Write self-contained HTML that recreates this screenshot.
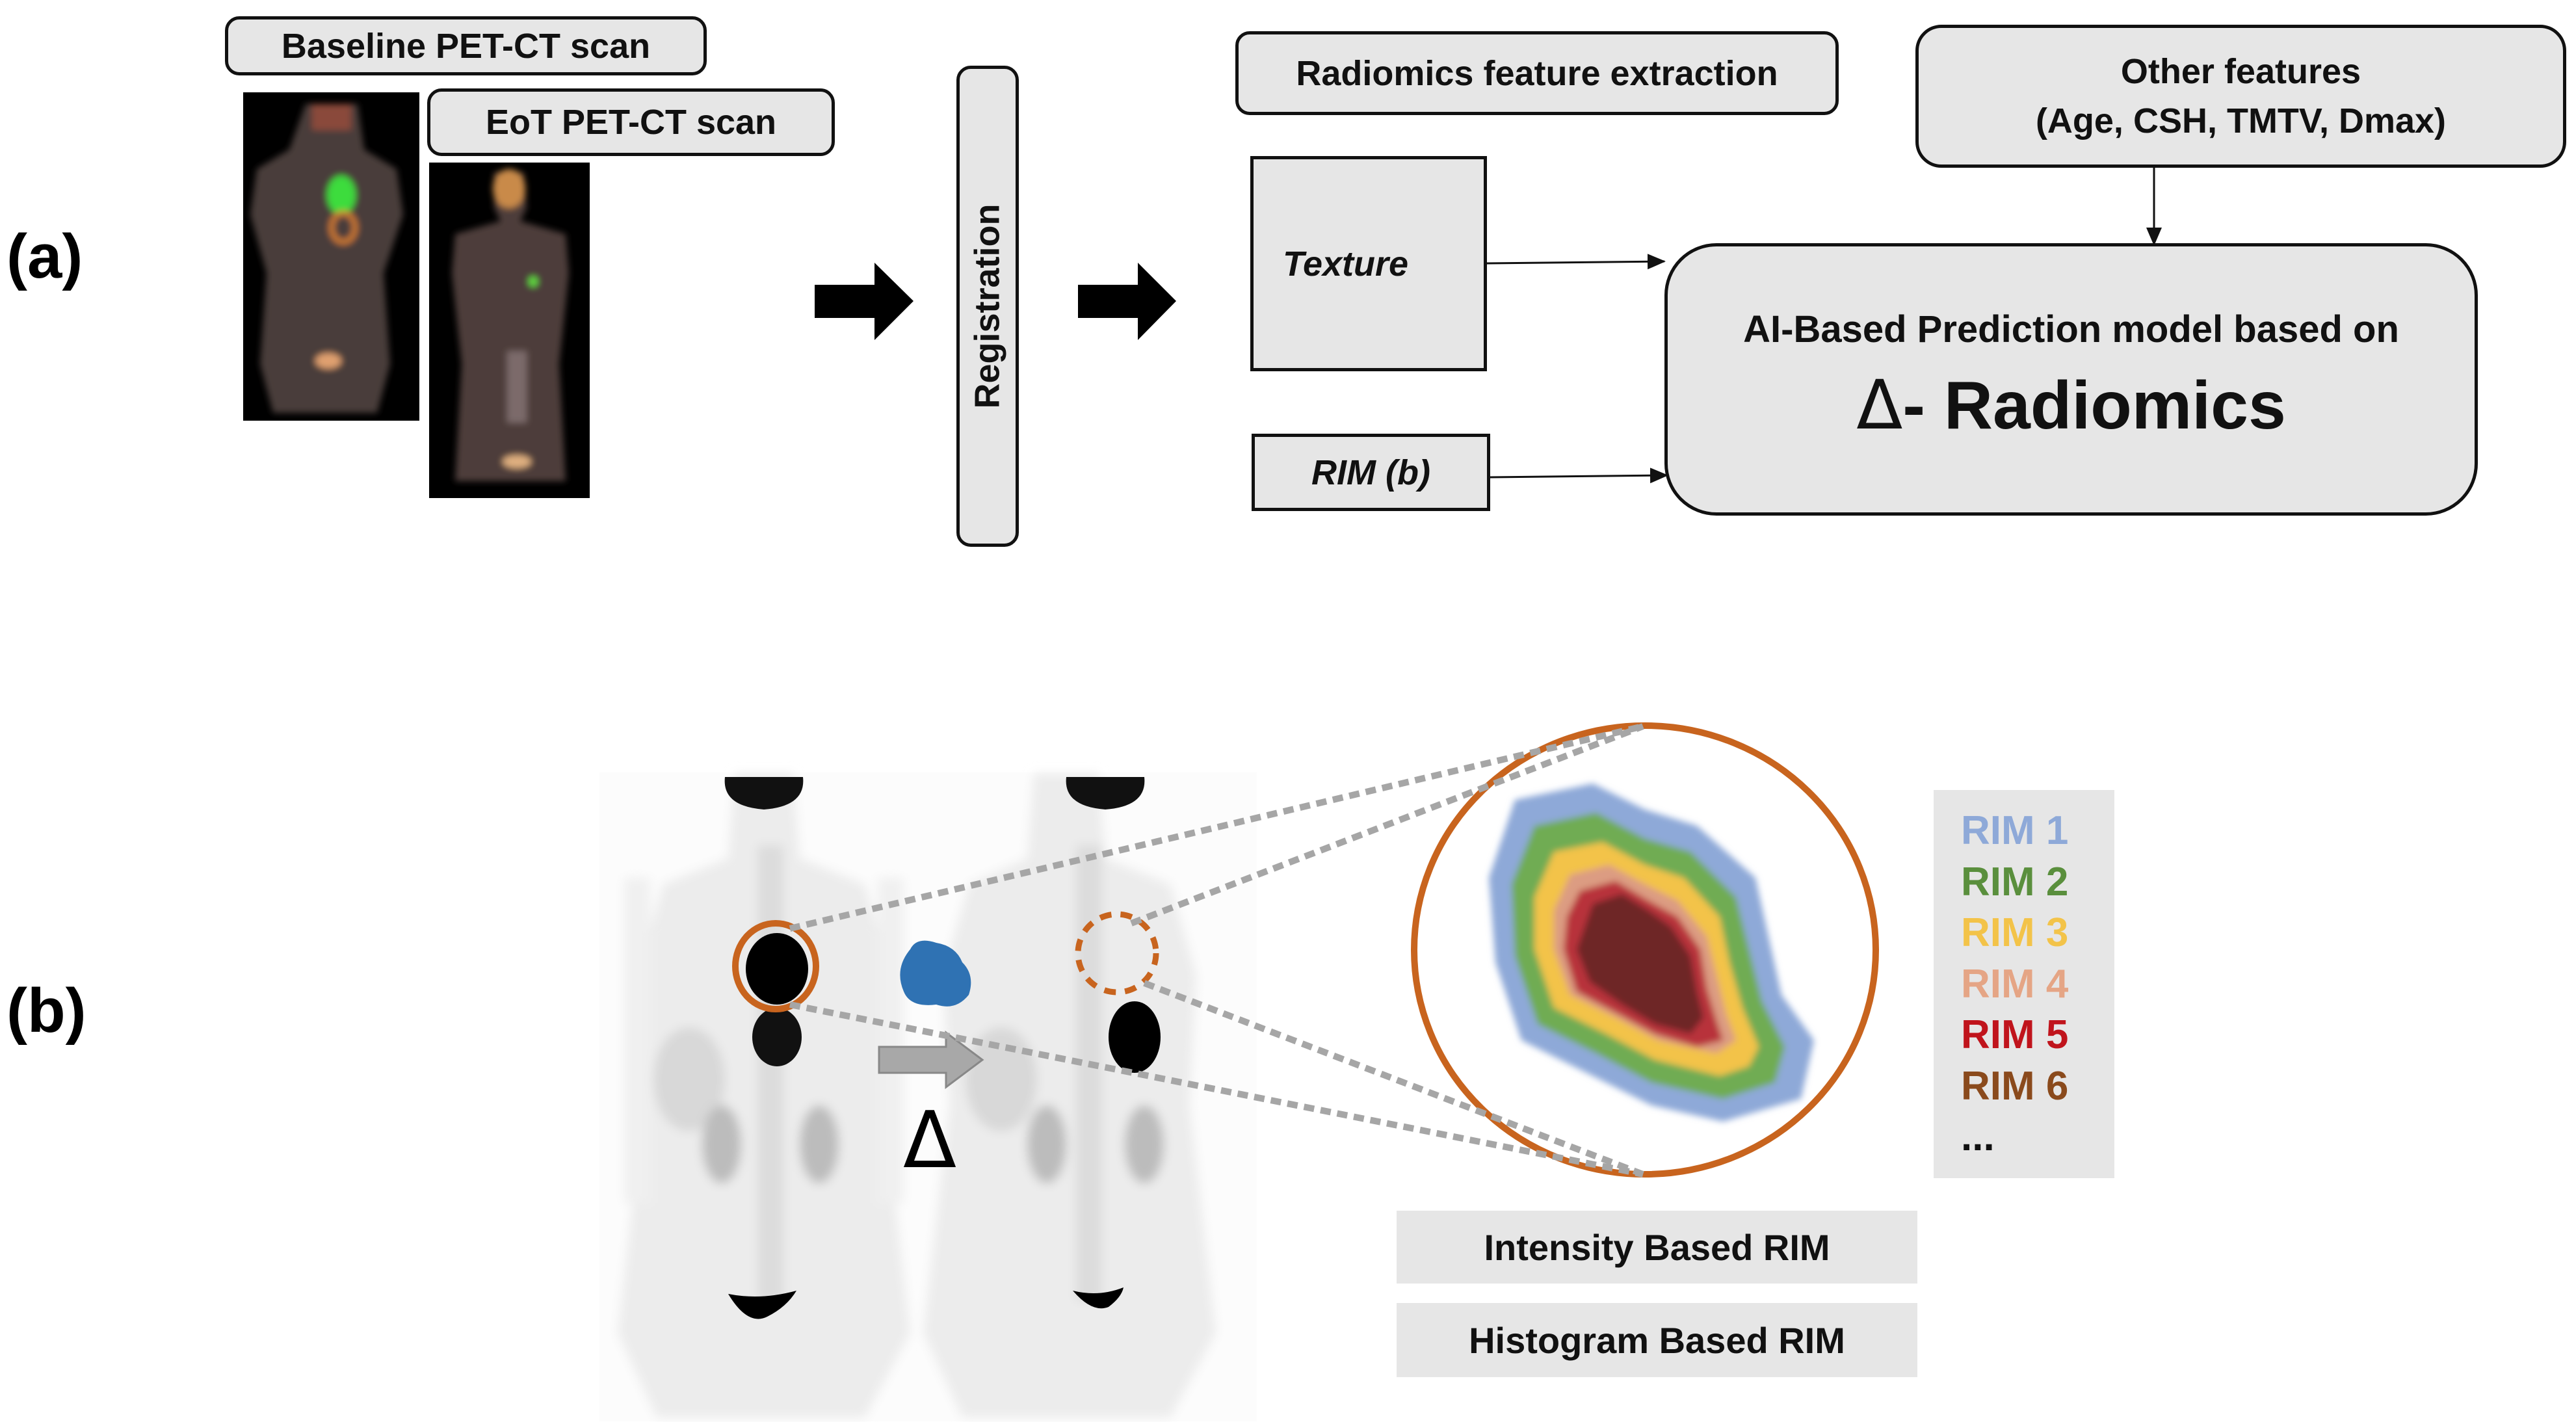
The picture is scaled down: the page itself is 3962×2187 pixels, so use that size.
<!DOCTYPE html>
<html><head><meta charset="utf-8"><style>
body{margin:0;width:3962px;height:2187px;background:#fff;overflow:hidden;position:relative;font-family:"Liberation Sans",Arial,sans-serif}
.b{position:absolute;box-sizing:border-box;background:#e6e6e6;border:5px solid #111;display:flex;align-items:center;justify-content:center;text-align:center;font-weight:bold;color:#111}
.r{border-radius:22px}
</style></head><body>
<svg width="3962" height="2187" style="position:absolute;left:0;top:0">
<defs>
<marker id="ah" markerWidth="28" markerHeight="28" refX="26" refY="14" orient="auto" markerUnits="userSpaceOnUse" viewBox="0 0 28 28"><path d="M0,2L28,14L0,26z" fill="#111"/></marker>
<filter id="bl"><feGaussianBlur stdDeviation="5"/></filter>
<filter id="bl2"><feGaussianBlur stdDeviation="8"/></filter>
</defs>
<!-- PET-CT images part a -->
<rect x="374" y="142" width="271" height="505" fill="#000"/>
<g filter="url(#bl)">
<path d="M470,160 L550,160 L560,230 L610,260 L620,330 L590,420 L600,560 L580,635 L420,635 L400,560 L410,420 L385,330 L395,260 L445,230Z" fill="#4a3d3b"/>
<ellipse cx="525" cy="300" rx="22" ry="30" fill="#3cdc3c"/>
<ellipse cx="528" cy="350" rx="18" ry="22" fill="none" stroke="#d07a30" stroke-width="8"/>
<ellipse cx="505" cy="555" rx="20" ry="12" fill="#e0a070"/>
<rect x="480" y="160" width="60" height="40" fill="#8a4a3a"/>
</g>
<rect x="660" y="250" width="247" height="516" fill="#000"/>
<g filter="url(#bl)">
<path d="M760,265 L805,265 L810,320 L800,340 L870,360 L875,420 L860,560 L870,740 L700,740 L710,560 L695,420 L700,360 L770,340 L760,320Z" fill="#4d3c3a"/>
<ellipse cx="783" cy="290" rx="25" ry="30" fill="#c98a4a"/>
<ellipse cx="820" cy="433" rx="7" ry="8" fill="#60e040"/>
<ellipse cx="795" cy="710" rx="22" ry="10" fill="#e0b080"/>
<rect x="780" y="540" width="30" height="110" fill="#7b6a6a"/>
</g>
<!-- black arrows -->
<path d="M1253,438 L1345,438 L1345,404 L1405,463 L1345,523 L1345,489 L1253,489Z" fill="#000"/>
<path d="M1658,438 L1750,438 L1750,404 L1809,463 L1750,523 L1750,489 L1658,489Z" fill="#000"/>
<!-- connectors -->
<line x1="2287" y1="405" x2="2560" y2="402" stroke="#111" stroke-width="3" marker-end="url(#ah)"/>
<line x1="2292" y1="734" x2="2564" y2="731" stroke="#111" stroke-width="3" marker-end="url(#ah)"/>
<line x1="3313" y1="258" x2="3313" y2="376" stroke="#111" stroke-width="3" marker-end="url(#ah)"/>
<!-- part b PET MIPs -->
<rect x="922" y="1188" width="1011" height="998" fill="#fcfcfc"/>
<g filter="url(#bl2)">
<path d="M1130,1190 L1220,1190 L1230,1320 L1330,1360 L1370,1500 L1360,1700 L1400,2050 L1330,2180 L1010,2180 L950,2050 L990,1700 L980,1500 L1020,1360 L1120,1320Z" fill="#ececec"/>
<rect x="960" y="1350" width="40" height="500" fill="#f0f0f0"/>
<rect x="1350" y="1350" width="40" height="500" fill="#f0f0f0"/>
<rect x="1165" y="1300" width="40" height="700" fill="#dcdcdc"/>
<ellipse cx="1060" cy="1660" rx="55" ry="80" fill="#d8d8d8"/>
<ellipse cx="1110" cy="1760" rx="30" ry="60" fill="#bcbcbc"/>
<ellipse cx="1260" cy="1760" rx="30" ry="60" fill="#bcbcbc"/>
<path d="M1590,1190 L1690,1190 L1700,1320 L1800,1360 L1840,1500 L1830,1700 L1870,2050 L1800,2180 L1480,2180 L1420,2050 L1460,1700 L1450,1500 L1490,1360 L1580,1320Z" fill="#ececec"/>
<rect x="1655" y="1300" width="40" height="700" fill="#dcdcdc"/>
<ellipse cx="1540" cy="1660" rx="55" ry="80" fill="#d8d8d8"/>
<ellipse cx="1610" cy="1760" rx="30" ry="60" fill="#bcbcbc"/>
<ellipse cx="1760" cy="1760" rx="30" ry="60" fill="#bcbcbc"/>
</g>
<path d="M1115,1195 L1235,1195 Q1240,1240 1175,1245 Q1110,1240 1115,1195Z" fill="#111"/>
<path d="M1640,1195 L1760,1195 Q1765,1240 1700,1245 Q1635,1240 1640,1195Z" fill="#111"/>
<ellipse cx="1195" cy="1490" rx="48" ry="55" fill="#000"/>
<ellipse cx="1195" cy="1595" rx="38" ry="45" fill="#111"/>
<ellipse cx="1745" cy="1595" rx="40" ry="55" fill="#000"/>
<path d="M1120,1990 Q1150,2040 1180,2025 Q1210,2010 1225,1985 Q1170,2000 1120,1990Z" fill="#000"/>
<path d="M1650,1985 Q1680,2020 1705,2010 Q1725,1995 1728,1980 Q1690,1995 1650,1985Z" fill="#000"/>
<ellipse cx="1193" cy="1486" rx="62" ry="66" fill="none" stroke="#c8641e" stroke-width="10"/>
<ellipse cx="1718" cy="1466" rx="60" ry="60" fill="none" stroke="#c8641e" stroke-width="9" stroke-dasharray="18,14"/>
<!-- blue blob -->
<path d="M1400,1460 Q1410,1440 1440,1450 Q1470,1455 1480,1480 Q1500,1500 1490,1530 Q1470,1555 1440,1545 Q1400,1550 1390,1525 Q1375,1490 1400,1460Z" fill="#2f72b3"/>
<!-- gray arrow -->
<path d="M1352,1610 L1455,1610 L1455,1588 L1511,1630 L1455,1672 L1455,1650 L1352,1650Z" fill="#a8a8a8" stroke="#888" stroke-width="3"/>
<text x="1430" y="1795" font-size="120" font-family="DejaVu Sans,sans-serif" text-anchor="middle" fill="#000">Δ</text>
<!-- big circle with rims -->
<ellipse cx="2530" cy="1461" rx="355" ry="345" fill="#fff" stroke="#c8641e" stroke-width="10"/>
<g filter="url(#bl)">
<path d="M2330,1230 L2450,1205 L2530,1245 L2610,1270 L2700,1350 L2720,1440 L2740,1530 L2790,1600 L2770,1690 L2650,1725 L2540,1700 L2440,1650 L2340,1600 L2300,1480 L2290,1350Z" fill="#8ea9d8"/>
<path d="M2360,1270 L2455,1250 L2530,1290 L2600,1310 L2670,1380 L2690,1460 L2710,1540 L2745,1610 L2730,1665 L2650,1690 L2540,1665 L2455,1620 L2365,1575 L2330,1470 L2325,1360Z" fill="#6fac52"/>
<path d="M2390,1310 L2465,1295 L2530,1330 L2590,1350 L2645,1410 L2660,1480 L2680,1550 L2705,1610 L2690,1640 L2645,1655 L2545,1630 L2470,1590 L2390,1550 L2360,1460 L2360,1380Z" fill="#f3c349"/>
<path d="M2415,1345 L2475,1330 L2530,1360 L2580,1385 L2625,1440 L2640,1500 L2655,1560 L2670,1600 L2640,1620 L2550,1600 L2485,1565 L2415,1530 L2390,1460 L2390,1400Z" fill="#dc9c82"/>
<path d="M2430,1370 L2485,1355 L2535,1385 L2580,1410 L2615,1460 L2625,1520 L2640,1570 L2650,1600 L2610,1610 L2545,1590 L2490,1560 L2425,1525 L2405,1460 L2410,1410Z" fill="#b8333a"/>
<path d="M2450,1390 L2495,1375 L2535,1400 L2570,1425 L2600,1470 L2610,1525 L2620,1565 L2600,1590 L2545,1575 L2495,1545 L2445,1510 L2425,1460Z" fill="#6e2527"/>
</g>
<!-- dashed zoom lines (drawn on top) -->
<g stroke="#a6a6a6" stroke-width="10" stroke-dasharray="16,10">
<line x1="1215" y1="1428" x2="2527" y2="1117"/>
<line x1="1740" y1="1420" x2="2527" y2="1117"/>
<line x1="1215" y1="1545" x2="2527" y2="1806"/>
<line x1="1760" y1="1512" x2="2527" y2="1806"/>
</g>
</svg>

<div style="position:absolute;left:10px;top:340px;font-size:96px;font-weight:bold">(a)</div>
<div style="position:absolute;left:10px;top:1500px;font-size:96px;font-weight:bold">(b)</div>

<div class="b r" style="left:346px;top:25px;width:741px;height:91px;font-size:54px">Baseline PET-CT scan</div>
<div class="b r" style="left:657px;top:136px;width:627px;height:104px;font-size:54px">EoT PET-CT scan</div>
<div class="b r" style="left:1471px;top:101px;width:96px;height:740px;"><span style="transform:rotate(-90deg);white-space:nowrap;font-size:54px;display:inline-block">Registration</span></div>
<div class="b r" style="left:1900px;top:48px;width:928px;height:129px;font-size:54px">Radiomics feature extraction</div>
<div class="b" style="left:1923px;top:240px;width:364px;height:331px;font-size:54px;font-style:italic;justify-content:flex-start;align-items:flex-start;padding:130px 0 0 45px">Texture</div>
<div class="b" style="left:1925px;top:667px;width:367px;height:119px;font-size:54px;font-style:italic">RIM (b)</div>
<div class="b r" style="left:2946px;top:38px;width:1001px;height:220px;font-size:54px;line-height:76px;border-radius:40px">Other features<br>(Age, CSH, TMTV, Dmax)</div>
<div class="b" style="left:2560px;top:374px;width:1251px;height:419px;border-radius:80px;flex-direction:column">
<div style="font-size:58px;margin-top:-10px">AI-Based Prediction model based on</div>
<div style="font-size:104px;margin-top:22px"><span style="font-family:'DejaVu Sans',sans-serif;font-weight:normal">Δ</span>- Radiomics</div>
</div>

<div style="position:absolute;left:2974px;top:1215px;width:278px;height:597px;background:#e6e6e6;font-weight:bold;font-size:62px;line-height:78.5px;padding:24px 0 0 42px;box-sizing:border-box">
<div style="color:#8ea9d8">RIM 1</div><div style="color:#5a8f3d">RIM 2</div><div style="color:#f3c349">RIM 3</div><div style="color:#e5a585">RIM 4</div><div style="color:#c0141c">RIM 5</div><div style="color:#8a4a1c">RIM 6</div><div style="color:#111">...</div>
</div>
<div class="b" style="left:2148px;top:1862px;width:801px;height:112px;border:none;font-size:56px">Intensity Based RIM</div>
<div class="b" style="left:2148px;top:2004px;width:801px;height:114px;border:none;font-size:56px">Histogram Based RIM</div>
</body></html>
